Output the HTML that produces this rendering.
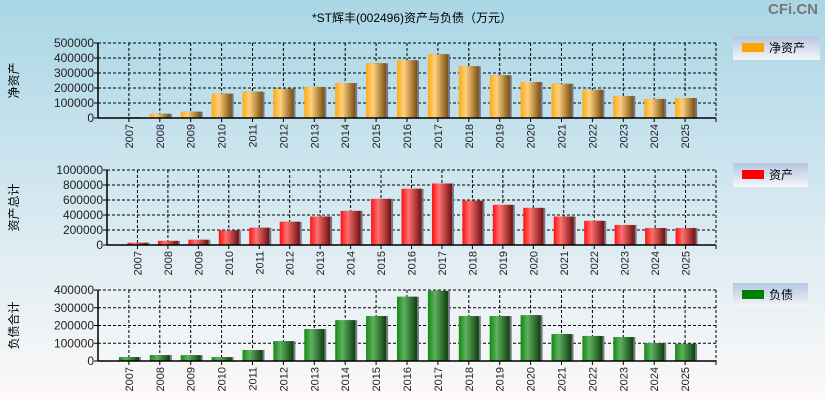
<!DOCTYPE html>
<html><head><meta charset="utf-8"><style>
html,body{margin:0;padding:0;}
body{width:825px;height:400px;overflow:hidden;font-family:"Liberation Sans","Noto Sans CJK SC",sans-serif;}
svg{display:block;}
</style></head><body>
<svg id="c" width="825" height="400" xmlns="http://www.w3.org/2000/svg">
<defs>
<linearGradient id="bg" x1="0" y1="0" x2="0" y2="1"><stop offset="0" stop-color="#a9d6e5"/><stop offset="0.5" stop-color="#d4e8f0"/><stop offset="1" stop-color="#fdf9f8"/></linearGradient>
<linearGradient id="gO" x1="0" x2="1"><stop offset="0" stop-color="#ffaa10"/><stop offset="0.35" stop-color="#ffd080"/><stop offset="1" stop-color="#7a5010"/></linearGradient>
<linearGradient id="gR" x1="0" x2="1"><stop offset="0" stop-color="#ff1010"/><stop offset="0.35" stop-color="#ff7070"/><stop offset="1" stop-color="#701010"/></linearGradient>
<linearGradient id="gG" x1="0" x2="1"><stop offset="0" stop-color="#108a10"/><stop offset="0.35" stop-color="#60b060"/><stop offset="1" stop-color="#0c400c"/></linearGradient>
<linearGradient id="lg" x1="0" y1="0" x2="0" y2="1"><stop offset="0" stop-color="#b4c6e0"/><stop offset="1" stop-color="#f6f6fa"/></linearGradient>
</defs>
<rect x="0" y="0" width="825" height="400" fill="url(#bg)"/>
<text x="412" y="22" font-size="12" text-anchor="middle" fill="#000">*ST辉丰(002496)资产与负债（万元）</text>
<text x="818" y="14" font-size="15" font-weight="bold" text-anchor="end" fill="#777">CFi.CN</text>
<g id="root"></g>
</svg>
<script>
const years=["2007","2008","2009","2010","2011","2012","2013","2014","2015","2016","2017","2018","2019","2020","2021","2022","2023","2024","2025"];
const netAssets=[5000,28000,42000,163000,175000,195000,207000,233000,365000,385000,425000,345000,285000,240000,228000,188000,147000,127000,133000];
const totalAssets=[30000,55000,70000,195000,230000,310000,380000,455000,615000,750000,820000,590000,535000,495000,380000,322000,267000,227000,227000];
const liabilities=[22000,33000,33000,22000,62000,112000,180000,230000,253000,362000,395000,253000,253000,258000,152000,141000,135000,101000,97000];
const ticks1=[0,100000,200000,300000,400000,500000];
const ticks2=[0,200000,400000,600000,800000,1000000];
const ticks3=[0,100000,200000,300000,400000];
const NS="http://www.w3.org/2000/svg";
const root=document.getElementById('root');
function mk(tag,attrs,parent){const e=document.createElementNS(NS,tag);for(const k in attrs)e.setAttribute(k,attrs[k]);(parent||root).appendChild(e);return e;}
function panel(cfg){
 const g=mk('g',{});
 
 
 const L=cfg.left,R=716,T=cfg.top,B=cfg.bottom,max=cfg.ticks[cfg.ticks.length-1];
 const step=(R-L)/(years.length+1);
 const x=i=>L+step*(i+1);
 const y=v=>B-(v/max)*(B-T);
 // grid
 cfg.ticks.forEach((t,i)=>{
  if(i>0){const l=mk('line',{x1:L,x2:R,y1:y(t),y2:y(t),stroke:'#000','stroke-dasharray':'3,2','stroke-width':1},g);
   }
  const tx=mk('text',{x:L-4,y:y(t)+4,'font-size':12,'text-anchor':'end',fill:'#222'},g);
  
  tx.textContent=t;
  mk('line',{x1:L-4,x2:L,y1:y(t),y2:y(t),stroke:'#000'},g);
 });
 years.forEach((yr,i)=>{
  const l=mk('line',{x1:x(i),x2:x(i),y1:T,y2:B,stroke:'#000','stroke-dasharray':'3,2'},g);
  
 });
 mk('line',{x1:R,x2:R,y1:T,y2:B,stroke:'#000','stroke-dasharray':'3,2'},g);
 // bars
 cfg.values.forEach((v,i)=>{
  const bw=20;
  mk('rect',{x:x(i)-bw/2+2,y:y(v),width:bw,height:B-y(v),fill:'#778'},g);
  const r=mk('rect',{x:x(i)-bw/2,y:y(v),width:bw,height:B-y(v),fill:cfg.fill},g);
  
  
 });
 // axes
 mk('line',{x1:L,x2:L,y1:T,y2:B,stroke:'#000','stroke-width':1.5},g);
 mk('line',{x1:L,x2:R,y1:B,y2:B,stroke:'#000','stroke-width':1.5},g);
 years.forEach((yr,i)=>{
  mk('line',{x1:x(i),x2:x(i),y1:B,y2:B+4,stroke:'#000'},g);
  const t=mk('text',{x:0,y:0,'font-size':11,'text-anchor':'end',fill:'#222',transform:`translate(${x(i)+4},${B+6}) rotate(-90)`},g);
  
  t.textContent=yr;
 });
 mk('line',{x1:R,x2:R,y1:B,y2:B+4,stroke:'#000'},g);
 const at=mk('text',{x:0,y:0,'font-size':12,'text-anchor':'middle',fill:'#000',transform:`translate(18,${(T+B)/2}) rotate(-90)`},g);
 
 at.textContent=cfg.title;
 // legend
 const lg=mk('g',{},g);
 
 
 mk('rect',{x:733,y:cfg.ly,width:cfg.lw,height:24,fill:'url(#lg)'},lg);
 mk('rect',{x:742,y:cfg.ly+7,width:22,height:9,fill:cfg.lc},lg);
 const lt=mk('text',{x:769,y:cfg.ly+16,'font-size':12,fill:'#000'},lg);
 lt.textContent=cfg.label;
}
panel({name:'net-assets-panel',left:98,top:43,bottom:118,ticks:ticks1,values:netAssets,fill:'url(#gO)',title:'净资产',ly:36,lw:87,lc:'#ffa500',label:'净资产'});
panel({name:'total-assets-panel',left:107,top:170,bottom:245,ticks:ticks2,values:totalAssets,fill:'url(#gR)',title:'资产总计',ly:163,lw:75,lc:'#ff0000',label:'资产'});
panel({name:'liabilities-panel',left:98,top:290,bottom:361,ticks:ticks3,values:liabilities,fill:'url(#gG)',title:'负债合计',ly:283,lw:75,lc:'#008000',label:'负债'});
</script>
</body></html>
